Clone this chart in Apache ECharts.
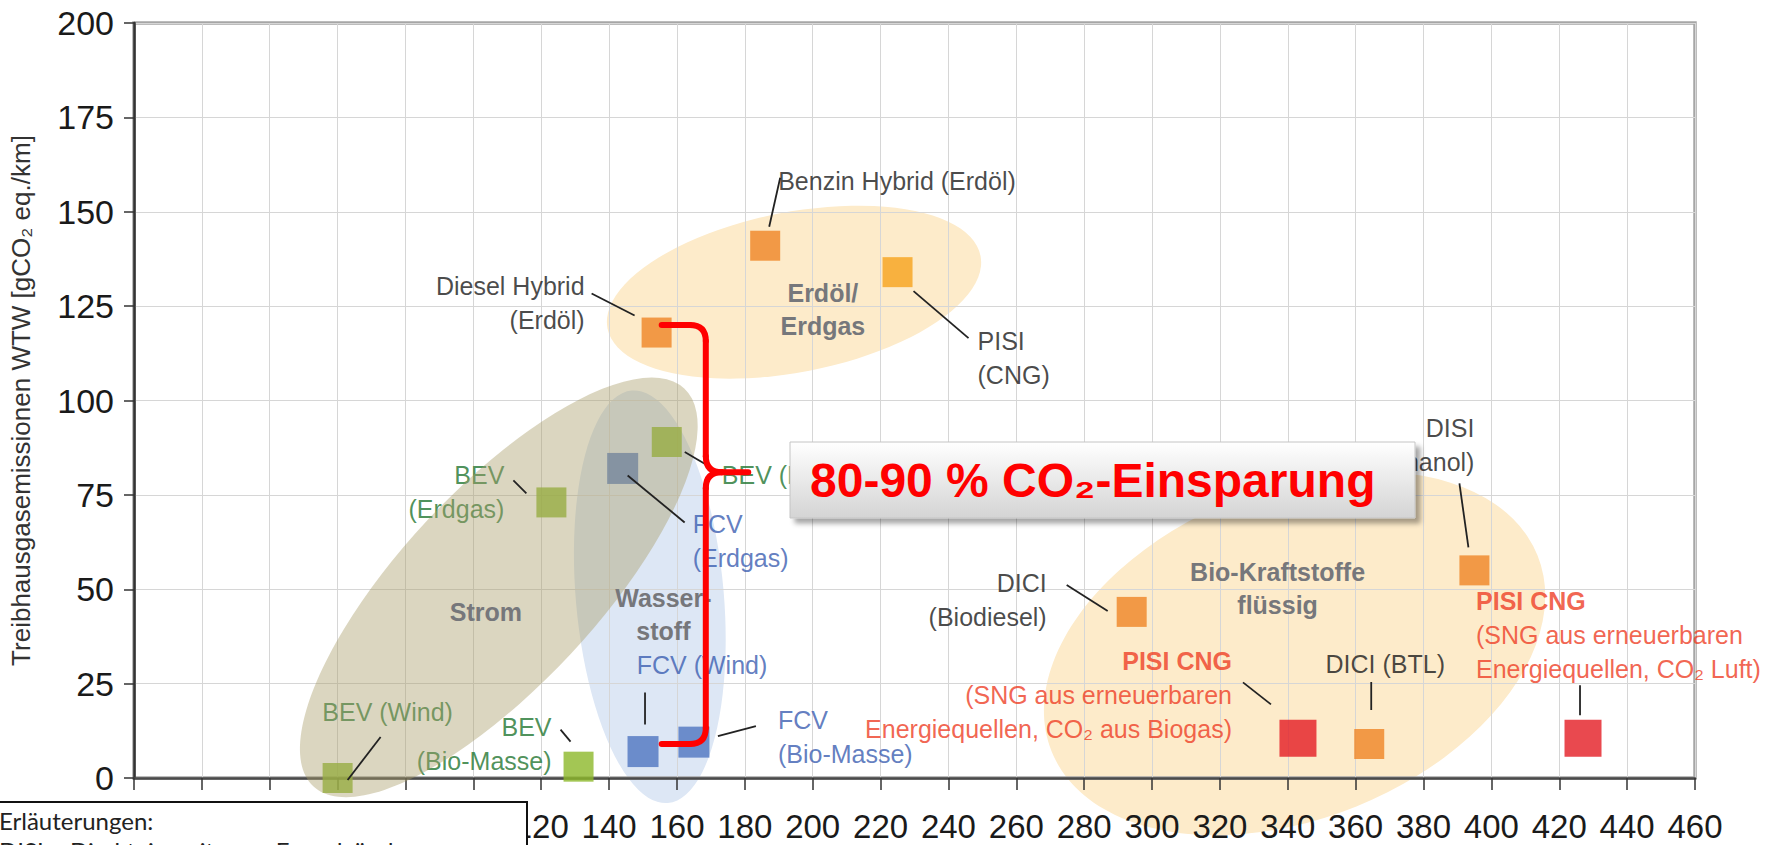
<!DOCTYPE html>
<html>
<head>
<meta charset="utf-8">
<script src="https://cdn.jsdelivr.net/npm/echarts@6/dist/echarts.min.js"></script>
<style>
html, body { margin: 0; padding: 0; background: #fff; }
#chart { width: 1773px; height: 845px; }
</style>
</head>
<body>
<div id="chart"></div>
<script>
// axes
const xMin = 0, xMax = 460, xStep = 20
const yMin = 0, yMax = 200, yStep = 25
const xFirstLabel = 120 // lower tick labels sit behind the notes box

// Strom (BEV)
const bevLabels = ['BEV (Wind)', 'BEV\n(Bio-Masse)', 'BEV\n(Erdgas)', 'BEV (Dt. Strommix)']
const bevX = [60, 131, 123, 157]
const bevY = [0, 3, 73, 89]

// Wasserstoff (FCV)
const fcvLabels = ['FCV\n(Erdgas)', 'FCV (Wind)', 'FCV\n(Bio-Masse)']
const fcvX = [144, 150, 165]
const fcvY = [82, 7, 9.5]

// Erdöl / Erdgas
const fossilLabels = ['Diesel Hybrid\n(Erdöl)', 'Benzin Hybrid (Erdöl)', 'PISI\n(CNG)']
const fossilX = [154, 186, 225]
const fossilY = [118, 141, 134]

// Bio-Kraftstoffe flüssig
const bioLabels = ['DICI\n(Biodiesel)', 'DISI\n(Ethanol)', 'DICI (BTL)']
const bioX = [294, 395, 364]
const bioY = [44, 55, 9]

// PISI CNG mit SNG aus erneuerbaren Energiequellen
const sngLabels = [
  '{b|PISI CNG}\n(SNG aus erneuerbaren\nEnergiequellen, CO₂ aus Biogas)',
  '{b|PISI CNG}\n(SNG aus erneuerbaren\nEnergiequellen, CO₂ Luft)'
]
const sngX = [343, 427]
const sngY = [10.5, 10.5]

// group names
const groupNames = ['Erdöl/\nErdgas', 'Strom', 'Wasser-\nstoff', 'Bio-Kraftstoffe\nflüssig']

// ---- layout / style (pixel offsets relative to the point) ----
const font = 'Liberation Sans, Arial, sans-serif'

const bevText = [[50, -66, 'center'], [-27, -23, 'right'], [-47, -10, 'right'], [55, 33, 'left']]
const fcvText = [[70, 73, 'left'], [59, -87, 'center'], [84, -5, 'left']]
const fossilText = [[-72, -30, 'right'], [13, -65, 'left'], [80, 86, 'left']]
const bioText = [[-85, -12, 'right'], [0, -125, 'right'], [16, -80, 'center']]
const sngText = [[-66, -43, 'right'], [-107, -103, 'left']]

const bevLead = [[43, -41, 10, 2], [-18, -37, -8, -25], [-38, -22, -25, -9], [18, 10, 40, 23]]
const fcvLead = [[5, 7, 62, 54], [2, -59, 2, -27], [24, -6, 62, -16]]
const fossilLead = [[-65, -39, -22, -17], [15, -68, 4, -19], [16, 19, 71, 66]]
const bioLead = [[-65, -27, -24, -1], [-15, -87, -6, -23], [2, -62, 2, -34]]
const sngLead = [[-55, -56, -27, -34], [-3, -53, -3, -23]]

// ellipses: centre in data units, half axes in px, rotation in degrees
const ellipses = [
  { c: [194.5, 128.7], a: 190, b: 80, rot: 11, color: '#fdebca', z: -1 },
  { c: [342, 33], a: 262, b: 165, rot: 22, color: '#fdebca', z: -1 },
  { c: [152, 48], a: 74, b: 207, rot: 5, color: '#dde7f5', z: -1 },
  { c: [107.5, 50.5], a: 272, b: 98, rot: 47, color: 'rgba(170,158,105,0.42)', z: 3 }
]
const groupPos = [[203, 124], [103.7, 44], [156, 43.4], [337, 50.2]]

const chart = echarts.init(document.getElementById('chart'), null, { renderer: 'svg' })

function pointSeries(name, labels, xs, ys, colors, size, textColor, textPos) {
  return {
    name,
    type: 'scatter',
    symbol: 'rect',
    symbolSize: size,
    z: 2,
    data: xs.map((x, i) => ({
      value: [x, ys[i]],
      itemStyle: { color: Array.isArray(colors) ? colors[i] : colors },
      label: {
        show: true,
        position: [size / 2 + textPos[i][0], size / 2 + textPos[i][1]],
        align: textPos[i][2],
        verticalAlign: 'middle',
        formatter: labels[i],
        color: textColor,
        fontSize: 25,
        fontFamily: font,
        lineHeight: 34,
        rich: {
          b: { fontWeight: 'bold', fontSize: 25, fontFamily: font, lineHeight: 34, color: textColor }
        }
      }
    }))
  }
}

chart.setOption({
  animation: false,
  grid: {
    left: 134, right: 78, top: 23, bottom: 67,
    show: true, borderColor: '#a6a6a6', borderWidth: 3.5,
    outerBoundsMode: 'none'
  },
  xAxis: {
    type: 'value', min: xMin, max: xMax, interval: xStep,
    axisLine: { show: true, onZero: false, lineStyle: { color: '#4a4a4a', width: 2.5 } },
    axisTick: { show: true, length: 12, lineStyle: { color: '#333', width: 1.5 } },
    axisLabel: {
      margin: 32, fontSize: 33, color: '#1a1a1a', fontFamily: font,
      formatter: v => (v >= xFirstLabel ? String(v) : '')
    },
    splitLine: { show: true, lineStyle: { color: '#d6d6d6', width: 1 } }
  },
  yAxis: {
    type: 'value', min: yMin, max: yMax, interval: yStep,
    name: 'Treibhausgasemissionen WTW [gCO₂ eq./km]',
    nameLocation: 'middle', nameRotate: 90, nameGap: 100,
    nameTextStyle: { fontSize: 26, color: '#333', fontFamily: font },
    axisLine: { show: true, lineStyle: { color: '#333', width: 2.5 } },
    axisTick: { show: true, length: 10, lineStyle: { color: '#333', width: 1.5 } },
    axisLabel: { margin: 20, fontSize: 34, color: '#1a1a1a', fontFamily: font },
    splitLine: { show: true, lineStyle: { color: '#d6d6d6', width: 1 } }
  },
  series: [
    pointSeries('Strom', bevLabels, bevX, bevY, '#8cb829', 30, '#1f7530', bevText),
    pointSeries('Wasserstoff', fcvLabels, fcvX, fcvY, '#4f76c0', 31, '#3a5db0', fcvText),
    pointSeries('Erdöl/Erdgas', fossilLabels, fossilX, fossilY, ['#ef8424', '#ef8424', '#f6a21c'], 30, '#1a1a1a', fossilText),
    pointSeries('Bio-Kraftstoffe', bioLabels, bioX, bioY, '#ef8424', 30, '#1a1a1a', bioText),
    pointSeries('SNG', sngLabels, sngX, sngY, '#e41c23', 37, '#ee3d25', sngText)
  ]
})

// ---- annotations computed from the axes ----
const toPx = p => chart.convertToPixel({ gridIndex: 0 }, p)
const graphics = []

ellipses.forEach(e => {
  const p = toPx(e.c)
  graphics.push({
    type: 'circle', shape: { cx: 0, cy: 0, r: 1 },
    x: p[0], y: p[1], scaleX: e.a, scaleY: e.b, rotation: e.rot * Math.PI / 180,
    style: { fill: e.color }, z: e.z, silent: true
  })
})

groupNames.forEach((t, i) => {
  const p = toPx(groupPos[i])
  graphics.push({
    type: 'text', x: p[0], y: p[1], z: 5,
    style: {
      text: t, align: 'center', verticalAlign: 'middle', lineHeight: 33,
      fontSize: 25, fontWeight: 'bold', fontFamily: font, fill: '#76777b'
    }
  })
})

function leaders(xs, ys, lead) {
  xs.forEach((x, i) => {
    const p = toPx([x, ys[i]])
    const l = lead[i]
    graphics.push({
      type: 'line', z: 5,
      shape: { x1: p[0] + l[0], y1: p[1] + l[1], x2: p[0] + l[2], y2: p[1] + l[3] },
      style: { stroke: '#222', lineWidth: 1.8 }
    })
  })
}
leaders(bevX, bevY, bevLead)
leaders(fcvX, fcvY, fcvLead)
leaders(fossilX, fossilY, fossilLead)
leaders(bioX, bioY, bioLead)
leaders(sngX, sngY, sngLead)

// red brace from Diesel Hybrid down to the FCV points
const braceTop = toPx([155.5, 120]), braceBot = toPx([155.5, 9])
const spineX = toPx([168.5, 0])[0], braceTip = toPx([181, 81])
const rad = 16
const braceStyle = { stroke: '#ff0000', lineWidth: 6, lineCap: 'round', fill: null }
const seg = (x1, y1, x2, y2) => ({ type: 'line', z: 6, shape: { x1, y1, x2, y2 }, style: braceStyle })
const curve = (x1, y1, cx, cy, x2, y2) => ({
  type: 'bezierCurve', z: 6, shape: { x1, y1, x2, y2, cpx1: cx, cpy1: cy }, style: braceStyle
})
graphics.push(
  seg(braceTop[0], braceTop[1], spineX - rad, braceTop[1]),
  curve(spineX - rad, braceTop[1], spineX, braceTop[1], spineX, braceTop[1] + rad),
  seg(spineX, braceTop[1] + rad, spineX, braceTip[1] - rad),
  curve(spineX, braceTip[1] - rad, spineX, braceTip[1], spineX + rad, braceTip[1]),
  seg(spineX + rad, braceTip[1], braceTip[0], braceTip[1]),
  curve(spineX + rad, braceTip[1], spineX, braceTip[1], spineX, braceTip[1] + rad),
  seg(spineX, braceTip[1] + rad, spineX, braceBot[1] - rad),
  curve(spineX, braceBot[1] - rad, spineX, braceBot[1], spineX - rad, braceBot[1]),
  seg(spineX - rad, braceBot[1], braceBot[0], braceBot[1])
)

// callout box
graphics.push({
  type: 'rect', z: 7, shape: { x: 790, y: 442, width: 625, height: 76 },
  style: {
    fill: {
      type: 'linear', x: 0, y: 0, x2: 0, y2: 1,
      colorStops: [{ offset: 0, color: '#ffffff' }, { offset: 1, color: '#d4d4d4' }]
    },
    stroke: '#c4c4c4', lineWidth: 1,
    shadowBlur: 5, shadowOffsetX: 5, shadowOffsetY: 5, shadowColor: 'rgba(0,0,0,0.35)'
  }
})
graphics.push({
  type: 'text', z: 8, x: 810, y: 480,
  style: {
    text: '80-90 % CO₂-Einsparung', align: 'left', verticalAlign: 'middle',
    fontSize: 48, fontWeight: 'bold', fontFamily: font, fill: '#ff0000'
  }
})

// notes box at the bottom left
graphics.push({
  type: 'rect', z: 10, shape: { x: -3, y: 802, width: 530, height: 60 },
  style: { fill: '#fff', stroke: '#111', lineWidth: 2 }
})
graphics.push({
  type: 'text', z: 11, x: -1, y: 820,
  style: { text: 'Erläuterungen:', verticalAlign: 'middle', fontSize: 24, fontFamily: 'Lato, sans-serif', fill: '#222' }
})
graphics.push({
  type: 'text', z: 11, x: -1, y: 850,
  style: { text: 'DISI = Direkteinspritzung, Fremdzündung', verticalAlign: 'middle', fontSize: 24, fontFamily: 'Lato, sans-serif', fill: '#222' }
})

chart.setOption({ graphic: graphics })
</script>
</body>
</html>
